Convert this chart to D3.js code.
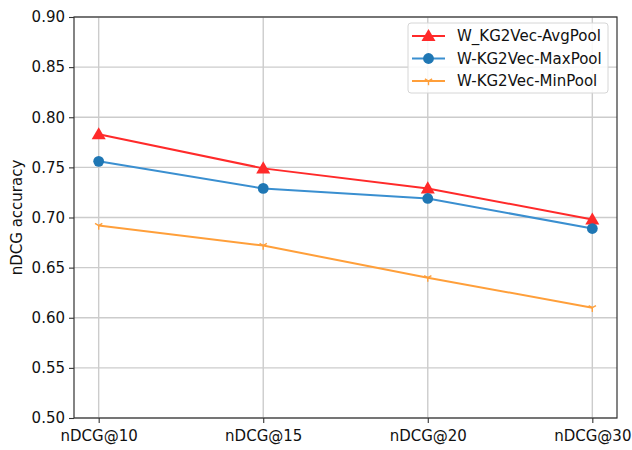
<!DOCTYPE html>
<html>
<head>
<meta charset="utf-8">
<script src="https://cdn.jsdelivr.net/npm/d3@7"></script>
<style>
  html, body { margin: 0; padding: 0; background: #fff; }
  svg { display: block; font-family: "DejaVu Sans", sans-serif; }
</style>
</head>
<body>
<svg id="chart" width="632" height="450"></svg>
<script>
// Ranking metrics on the x axis
const categories = ["nDCG@10", "nDCG@15", "nDCG@20", "nDCG@30"];

// nDCG accuracy for each pooling variant
const avgPool = [0.783, 0.749, 0.729, 0.698];
const maxPool = [0.756, 0.729, 0.719, 0.689];
const minPool = [0.692, 0.672, 0.640, 0.610];

const seriesNames = ["W_KG2Vec-AvgPool", "W-KG2Vec-MaxPool", "W-KG2Vec-MinPool"];
const yTicks = [0.50, 0.55, 0.60, 0.65, 0.70, 0.75, 0.80, 0.85, 0.90];

const series = [
  { name: seriesNames[0], values: avgPool, color: "#ff2a2a", marker: "triangle" },
  { name: seriesNames[1], values: maxPool, color: "#1f77b4", line: "#3a8fd0", marker: "circle" },
  { name: seriesNames[2], values: minPool, color: "#ff9f3a", marker: "tri_down" }
];

const FONT = "15px";
const svg = d3.select("#chart");
const plot = { left: 74, top: 17, right: 617, bottom: 418 };

const x = d3.scaleLinear().domain([-0.15, categories.length - 1 + 0.15]).range([plot.left, plot.right]);
const y = d3.scaleLinear().domain([0.50, 0.90]).range([plot.bottom, plot.top]);

// grid
const grid = svg.append("g");
grid.selectAll("line.gx").data(categories).join("line")
  .attr("x1", (d, i) => x(i)).attr("x2", (d, i) => x(i))
  .attr("y1", plot.top).attr("y2", plot.bottom)
  .attr("stroke", "#cccccc").attr("stroke-width", 1.4);
grid.selectAll("line.gy").data(yTicks).join("line")
  .attr("x1", plot.left).attr("x2", plot.right)
  .attr("y1", d => y(d)).attr("y2", d => y(d))
  .attr("stroke", "#cccccc").attr("stroke-width", 1.4);

// axes
const xAxis = d3.axisBottom(x).tickValues(d3.range(categories.length))
  .tickFormat(i => categories[i]).tickSize(5).tickPadding(7);
const yAxis = d3.axisLeft(y).tickValues(yTicks)
  .tickFormat(d3.format(".2f")).tickSize(5).tickPadding(4);

const gx = svg.append("g").attr("transform", `translate(0,${plot.bottom})`).call(xAxis);
const gy = svg.append("g").attr("transform", `translate(${plot.left},0)`).call(yAxis);
[gx, gy].forEach(g => {
  g.select(".domain").remove();
  g.selectAll(".tick line").attr("stroke", "#333").attr("stroke-width", 1.1);
  g.selectAll(".tick text").attr("fill", "#111").style("font-size", FONT)
    .style("font-family", "'DejaVu Sans', sans-serif");
});

// frame
svg.append("rect").attr("x", plot.left).attr("y", plot.top)
  .attr("width", plot.right - plot.left).attr("height", plot.bottom - plot.top)
  .attr("fill", "none").attr("stroke", "#333").attr("stroke-width", 1.2);

// y label
svg.append("text")
  .attr("transform", `translate(22,${(plot.top + plot.bottom) / 2}) rotate(-90)`)
  .attr("text-anchor", "middle")
  .style("font-size", FONT).attr("fill", "#111")
  .text("nDCG accuracy");

function drawMarker(g, type, color) {
  if (type === "triangle") {
    g.append("path").attr("d", d3.symbol(d3.symbolTriangle, 85)())
      .attr("fill", color).attr("transform", "translate(0,1)");
  } else if (type === "circle") {
    g.append("circle").attr("r", 5.4).attr("fill", color);
  } else {
    const r = 4.2;
    const p = [[0, r], [-r * 0.866, -r * 0.5], [r * 0.866, -r * 0.5]];
    p.forEach(q => g.append("line").attr("x1", 0).attr("y1", 0)
      .attr("x2", q[0]).attr("y2", q[1])
      .attr("stroke", color).attr("stroke-width", 1.4));
  }
}

const line = d3.line().x((d, i) => x(i)).y(d => y(d));

series.forEach(s => {
  svg.append("path").datum(s.values)
    .attr("d", line).attr("fill", "none")
    .attr("stroke", s.line || s.color).attr("stroke-width", 2);
  s.values.forEach((v, i) => {
    const g = svg.append("g").attr("transform", `translate(${x(i)},${y(v)})`);
    drawMarker(g, s.marker, s.color);
  });
});

// legend
const lg = svg.append("g");
lg.append("rect").attr("x", 408).attr("y", 23).attr("width", 200).attr("height", 70)
  .attr("rx", 3).attr("fill", "#fff").attr("fill-opacity", 0.85)
  .attr("stroke", "#d6d6d6").attr("stroke-width", 1);
series.forEach((s, i) => {
  const cy = 36 + i * 22.5;
  lg.append("line").attr("x1", 412).attr("x2", 445).attr("y1", cy).attr("y2", cy)
    .attr("stroke", s.line || s.color).attr("stroke-width", 2);
  const g = lg.append("g").attr("transform", `translate(428.5,${cy})`);
  drawMarker(g, s.marker, s.color);
  lg.append("text").attr("x", 457).attr("y", cy + 5)
    .style("font-size", FONT).attr("fill", "#111").text(s.name);
});
</script>
</body>
</html>
